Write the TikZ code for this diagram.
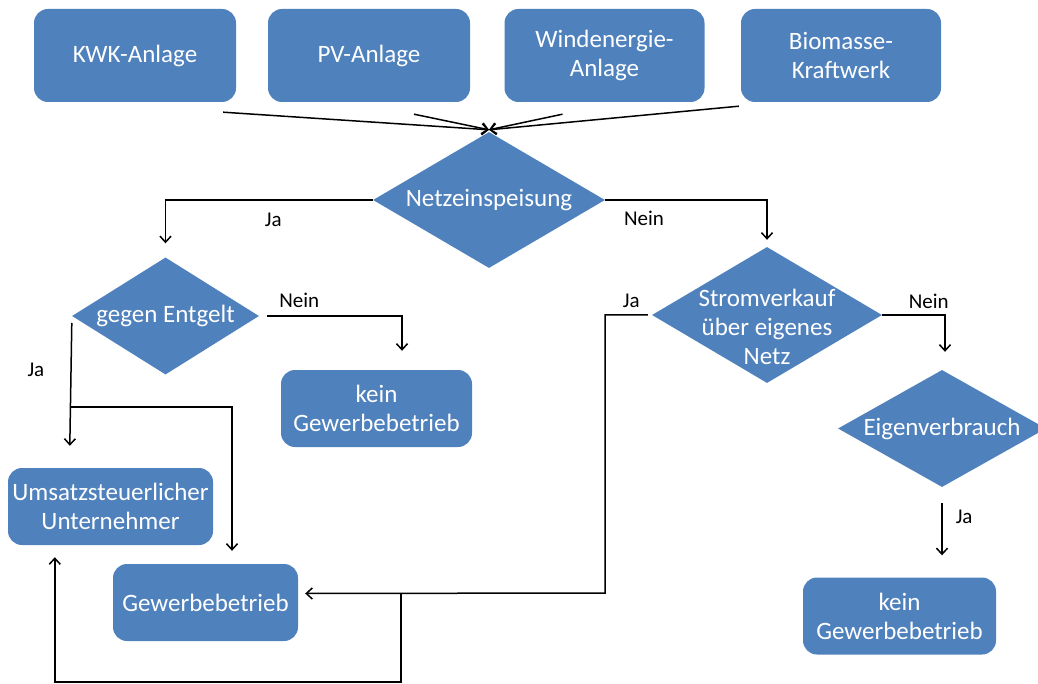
\documentclass[tikz,border=0pt]{standalone}
\usepackage{fontspec}
\setmainfont{Carlito}
\usepackage{xcolor}
\usepackage{tikz}
\usetikzlibrary{shapes.geometric, arrows.meta}

\definecolor{kastenblau}{RGB}{79,129,189}

\begin{document}
\begin{tikzpicture}[
			x=1pt, y=-1pt,
			kasten/.style={rectangle, rounded corners=14pt, fill=kastenblau, text=white, align=center, inner sep=2pt, font=\fontsize{25}{29}\selectfont},
			entscheidung/.style={diamond, fill=kastenblau, text=white, align=center, inner sep=-24pt, font=\fontsize{25}{29}\selectfont},
			beschriftung/.style={inner sep=0pt, font=\fontsize{21}{25}\selectfont},
			pfeil/.style={line width=1.5pt, -{Straight Barb[length=6pt, width=11pt]}}
			]
			\useasboundingbox (0,0) rectangle (1038,684);
			
			% Anlagen oben
			\node (kwk) [kasten, minimum width=202pt, minimum height=93pt] at (135,55.5) {KWK-Anlage};
			\node (pv) [kasten, minimum width=202pt, minimum height=93pt] at (369,55.5) {PV-Anlage};
			\node (wind) [kasten, minimum width=200pt, minimum height=93pt] at (604.5,55.5) {Windenergie-\\Anlage};
			\node (bio) [kasten, minimum width=200pt, minimum height=93pt] at (841,55.5) {Biomasse-\\Kraftwerk};
			
			% Entscheidungen
			\node (netz) [entscheidung, aspect=1.7, minimum width=232pt, minimum height=136pt] at (489,200) {Netzeinspeisung};
			\node (entgelt) [entscheidung, aspect=1.6, minimum width=187pt, minimum height=117pt] at (165.5,316) {gegen Entgelt};
			\node (strom) [entscheidung, aspect=1.7, minimum width=230pt, minimum height=136pt, text height=104pt, text depth=6pt] at (767,315) {Stromverkauf\\über eigenes\\Netz};
			\node (eigen) [entscheidung, aspect=1.78, minimum width=208pt, minimum height=117pt] at (942,428.5) {Eigenverbrauch};
			
			% Ergebnisse
			\node (kein1) [kasten, minimum width=191pt, minimum height=77pt] at (376.5,408.5) {kein\\Gewerbebetrieb};
			\node (umsatz) [kasten, minimum width=205pt, minimum height=77pt] at (110.5,506.5) {Umsatzsteuerlicher\\Unternehmer};
			\node (gewerbe) [kasten, minimum width=185pt, minimum height=77pt] at (205.5,602.5) {Gewerbebetrieb};
			\node (kein2) [kasten, minimum width=193pt, minimum height=77pt] at (899.5,616) {kein\\Gewerbebetrieb};
			
			% Hilfspunkte
			\coordinate (abzweig) at (70,407);
			\coordinate (knick) at (605,593);
			\coordinate (rueck) at (401,593);
			
			% Verbindungen
			\draw [pfeil] ([xshift=-13pt,yshift=-10pt]kwk.south east) -- ([yshift=2pt]netz.north);
			\draw [pfeil] ([xshift=45pt,yshift=-12pt]pv.south) -- ([yshift=2pt]netz.north);
			\draw [pfeil] ([xshift=-42pt,yshift=-12pt]wind.south) -- ([yshift=2pt]netz.north);
			\draw [pfeil] ([xshift=-2pt,yshift=-4pt]bio.south west) -- ([yshift=2pt]netz.north);
			
			\draw [pfeil, shorten >=14pt] (netz.west) -| node[beschriftung, pos=0.24, below=12pt] {Ja} (entgelt.north);
			\draw [pfeil, shorten >=7pt] (netz.east) -| node[beschriftung, pos=0.12, below=10pt] {Nein} (strom.north);
			
			\draw [pfeil, shorten <=8pt] (entgelt.east) -| node[beschriftung, pos=0.14, above=8pt] {Nein} ([xshift=25.5pt,yshift=19pt]kein1.north);
			\draw [pfeil] ([yshift=-7pt]entgelt.west) -- node[beschriftung, pos=0.38, left=26pt] {Ja} ([xshift=62pt,yshift=22pt]umsatz.north west);
			\draw [pfeil] (abzweig) -| ([xshift=26.5pt,yshift=13pt]gewerbe.north);
			
			\draw [pfeil, shorten <=4pt] (strom.west) -| node[beschriftung, pos=0.22, above=7pt] {Ja} (knick) -- ([xshift=7pt,yshift=9pt]gewerbe.east);
			\draw [pfeil] (rueck) -- ++(0,89) -| ([xshift=47pt,yshift=-12pt]umsatz.south west);
			
			\draw [pfeil] (strom.east) -| node[beschriftung, pos=0.37, above=6pt] {Nein} ([xshift=3pt,yshift=18pt]eigen.north);
			\draw [pfeil, shorten <=16pt, shorten >=22pt] (eigen.south) -- node[beschriftung, pos=0.33, right=13pt] {Ja} (eigen.south |- kein2.north);
			
		\end{tikzpicture}
\end{document}
